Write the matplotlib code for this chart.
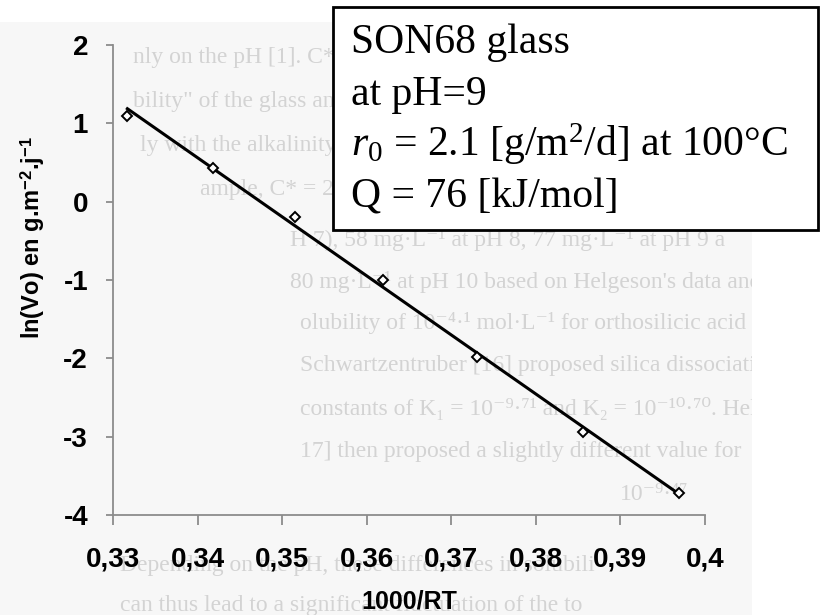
import numpy as np
import matplotlib
matplotlib.use("Agg")
import matplotlib.pyplot as plt
from matplotlib.patches import Rectangle
from matplotlib.transforms import Bbox, TransformedBbox

plt.rcParams['mathtext.fontset'] = 'custom'
plt.rcParams['mathtext.rm'] = 'Liberation Serif'
plt.rcParams['mathtext.it'] = 'Liberation Serif:italic'
plt.rcParams['mathtext.bf'] = 'Liberation Sans:bold'
plt.rcParams['axes.unicode_minus'] = False

# SON68, pH 9 : ln(Vo) vs 1000/RT
inv_rt = [0.3317, 0.3418, 0.3515, 0.3619, 0.3730, 0.3856, 0.3969]
ln_vo = [1.09, 0.43, -0.20, -1.00, -1.98, -2.94, -3.72]

x_ticks = [0.33, 0.34, 0.35, 0.36, 0.37, 0.38, 0.39, 0.40]
x_labels = ['0,33', '0,34', '0,35', '0,36', '0,37', '0,38', '0,39', '0,4']
y_ticks = [-4, -3, -2, -1, 0, 1, 2]

box_lines = ['SON68 glass',
             'at pH=9',
             r'$r_{\mathit{0}}$ = 2.1 [g/m$^{2}$/d] at 100°C',
             'Q = 76 [kJ/mol]']

# page text showing through the scan
page_rows = [
    (133, 57, 'nly on the pH [1]. C* is the'),
    (133, 101, 'bility" of the glass and'),
    (140, 145, 'ly with the alkalinity of the'),
    (200, 189, 'ample, C* = 28 mg·L⁻¹ at'),
    (290, 240, 'H 7), 58 mg·L⁻¹ at pH 8, 77 mg·L⁻¹ at pH 9 a'),
    (290, 282, '80 mg·L⁻¹ at pH 10 based on Helgeson\'s data and'),
    (300, 323, 'olubility of 10⁻⁴·¹ mol·L⁻¹ for orthosilicic acid'),
    (300, 366, 'Schwartzentruber [16] proposed silica dissociati'),
    (300, 409, 'constants of K₁ = 10⁻⁹·⁷¹ and K₂ = 10⁻¹⁰·⁷⁰. Helges'),
    (300, 452, '17] then proposed a slightly different value for'),
    (620, 494, '10⁻⁹·⁴⁷'),
    (120, 566, 'Depending on the pH, these differences in solubili'),
    (120, 606, 'can thus lead to a significant fluctuation of the to'),
]

W, H = 821, 615
fig = plt.figure(figsize=(W / 100, H / 100), dpi=100)
fig.patch.set_facecolor('white')

def px(x, y):
    return x / W, 1 - y / H

# scanned page background, drawn under the axes
page = Rectangle(px(0, H), 752 / W, (H - 22) / H, transform=fig.transFigure,
                 facecolor='#f7f7f7', edgecolor='none', zorder=-2)
fig.patches.append(page)
clip = TransformedBbox(Bbox([[0, 0], [752 / W, 1 - 22 / H]]), fig.transFigure)
for x0, y0, s in page_rows:
    t = fig.text(*px(x0, y0), s, fontsize=17, color='#d3d3d3', va='center',
                 family=['Liberation Serif', 'DejaVu Serif'], zorder=-1)
    t.set_clip_box(clip)
    t.set_clip_on(True)

ax = fig.add_axes([113 / W, 1 - 515 / H, (705 - 113) / W, (515 - 45) / H])
ax.patch.set_alpha(0)

slope, icpt = np.polyfit(inv_rt, ln_vo, 1)
xs = np.array([inv_rt[0], inv_rt[-1]])
ax.plot(xs, slope * xs + icpt, color='black', lw=2.2, zorder=3)
ax.plot(inv_rt, ln_vo, ls='none', marker='D', ms=5, mfc='white', mec='black',
        mew=1.4, zorder=4)

ax.set_xlim(0.33, 0.40)
ax.set_ylim(-4, 2)
ax.set_xticks(x_ticks)
ax.set_xticklabels(x_labels)
ax.set_yticks(y_ticks)

for side in ['top', 'right']:
    ax.spines[side].set_visible(False)
for side in ['left', 'bottom']:
    ax.spines[side].set_color('#8c8c8c')
    ax.spines[side].set_linewidth(1.3)

ax.tick_params(axis='x', direction='out', length=7, width=1.3, color='#8c8c8c',
               pad=16, labelsize=20)
ax.tick_params(axis='y', direction='out', length=5, width=1.3, color='#8c8c8c',
               pad=13, labelsize=20)
for lab in ax.get_xticklabels() + ax.get_yticklabels():
    lab.set_fontweight('bold')
    lab.set_family('Liberation Sans')

ax.set_xlabel('1000/RT', fontsize=18, fontweight='bold', family='Liberation Sans')
ax.xaxis.set_label_coords(0.5, -0.158)
ax.set_ylabel(r'ln(Vo) en g.m$^{\mathbf{-2}}$.j$^{\mathbf{-1}}$', fontsize=17,
              fontweight='bold', family='Liberation Sans')
ax.yaxis.set_label_coords(-0.112, 0.59)

# parameter box
box = Rectangle(px(333, 230), (818 - 333) / W, (230 - 7) / H,
                transform=fig.transFigure, facecolor='white',
                edgecolor='black', lw=2, zorder=5)
fig.patches.append(box)
for i, s in enumerate(box_lines):
    fig.text(*px(351, 53 + i * 51.5), s, fontsize=30, va='baseline',
             family='Liberation Serif', zorder=6)

fig.savefig('out.png', dpi=100)
